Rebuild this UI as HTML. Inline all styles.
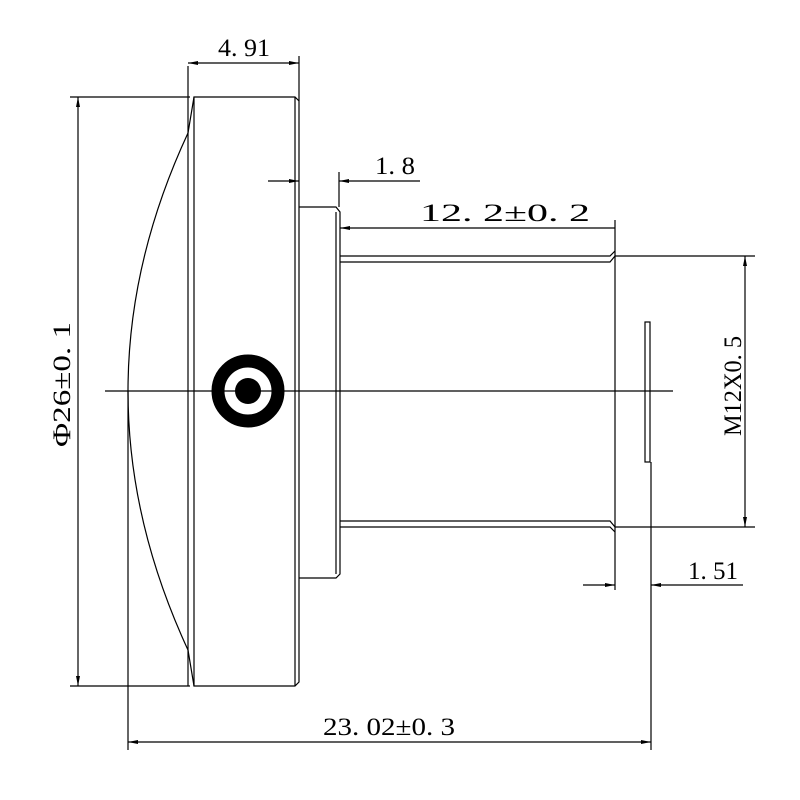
<!DOCTYPE html>
<html><head><style>body{margin:0;background:#fff}svg{display:block}text{font-family:"Liberation Serif","DejaVu Serif",serif;font-size:25px;fill:#000}</style></head>
<body>
<svg width="800" height="800" viewBox="0 0 800 800" xmlns="http://www.w3.org/2000/svg">
<defs>
<marker id="a" viewBox="0 0 10 4" refX="10" refY="2" markerWidth="10" markerHeight="4" markerUnits="userSpaceOnUse" orient="auto-start-reverse"><path d="M0,0 L10,2 L0,4z" fill="#000"/></marker>
</defs>
<g stroke="#000" stroke-width="1.2" fill="none">
<path d="M194,97 L295,97 L299,101 L299,682 L295,686 L194,686 Z"/>
<line x1="188" y1="66" x2="188" y2="686"/>
<line x1="295" y1="97" x2="295" y2="686"/>
<line x1="299" y1="56" x2="299" y2="101"/>
<path d="M194,97 L188,133 Q68,391 188,650 L194,686"/>
<path d="M299,207 L336,207 L340,212 L340,574 L336,578 L299,578"/>
<line x1="336" y1="212" x2="336" y2="574"/>
<path d="M340,256 L610,256 L615,251"/>
<path d="M340,262 L610,262 L615,256"/>
<path d="M340,527 L610,527 L615,532"/>
<path d="M340,521 L610,521 L615,527"/>
<line x1="615" y1="220" x2="615" y2="590"/>
<line x1="615" y1="256" x2="755" y2="256"/>
<line x1="615" y1="527" x2="755" y2="527"/>
<rect x="645" y="322" width="5" height="140"/>
<line x1="651" y1="462" x2="651" y2="750"/>
<line x1="105" y1="391" x2="673" y2="391"/>
<line x1="188" y1="63" x2="299" y2="63" marker-start="url(#a)" marker-end="url(#a)"/>
<line x1="268" y1="181" x2="299" y2="181" marker-end="url(#a)"/>
<line x1="420" y1="181" x2="339" y2="181" marker-end="url(#a)"/>
<line x1="339" y1="172" x2="339" y2="207"/>
<line x1="615" y1="228" x2="340" y2="228" marker-end="url(#a)"/>
<line x1="745" y1="256" x2="745" y2="527" marker-start="url(#a)" marker-end="url(#a)"/>
<line x1="583" y1="585" x2="615" y2="585" marker-end="url(#a)"/>
<line x1="743" y1="585" x2="651" y2="585" marker-end="url(#a)"/>
<line x1="78" y1="97" x2="78" y2="686" marker-start="url(#a)" marker-end="url(#a)"/>
<line x1="70" y1="97" x2="190" y2="97"/>
<line x1="70" y1="686" x2="190" y2="686"/>
<line x1="128" y1="391" x2="128" y2="750"/>
<line x1="128" y1="742" x2="651" y2="742" marker-start="url(#a)" marker-end="url(#a)"/>
</g>
<circle cx="248" cy="391" r="30" fill="none" stroke="#000" stroke-width="13"/>
<circle cx="248" cy="391" r="13" fill="#000"/>
<text x="218" y="56" textLength="52" lengthAdjust="spacingAndGlyphs">4. 91</text>
<text x="375" y="174" textLength="40" lengthAdjust="spacingAndGlyphs">1. 8</text>
<text x="420" y="221" textLength="170" lengthAdjust="spacingAndGlyphs">12. 2±0. 2</text>
<text x="688" y="579" textLength="50" lengthAdjust="spacingAndGlyphs">1. 51</text>
<text x="323" y="735" textLength="132" lengthAdjust="spacingAndGlyphs">23. 02±0. 3</text>
<text transform="translate(741,436) rotate(-90)" textLength="100" lengthAdjust="spacingAndGlyphs">M12X0. 5</text>
<text transform="translate(70,447) rotate(-90)" textLength="125" lengthAdjust="spacingAndGlyphs">Φ26±0. 1</text>
</svg>
</body></html>
